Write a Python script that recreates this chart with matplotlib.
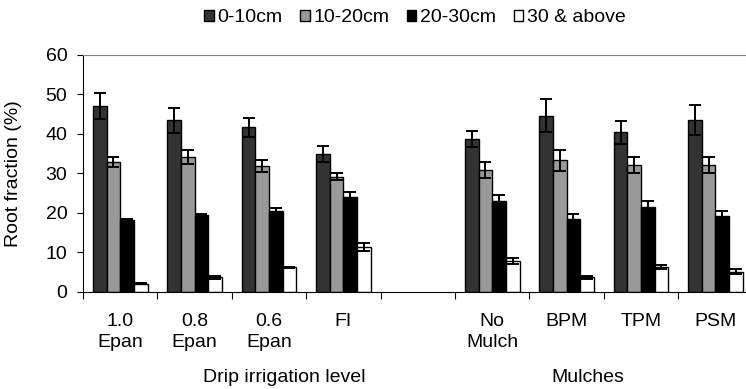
import numpy as np
import matplotlib.pyplot as plt

plt.rcParams['font.family'] = ['Liberation Sans', 'DejaVu Sans']
plt.rcParams['font.size'] = 14

categories = ['1.0\nEpan', '0.8\nEpan', '0.6\nEpan', 'FI', '',
              'No\nMulch', 'BPM', 'TPM', 'PSM']
series_names = ['0-10cm', '10-20cm', '20-30cm', '30 & above']

nan = np.nan
d_0_10 = [47.1, 43.4, 41.7, 34.9, nan, 38.7, 44.6, 40.4, 43.4]
e_0_10 = [3.3, 3.2, 2.4, 2.1, nan, 2.0, 4.1, 2.9, 3.8]
d_10_20 = [32.9, 34.1, 31.9, 29.2, nan, 30.8, 33.3, 32.1, 32.1]
e_10_20 = [1.2, 1.8, 1.5, 0.9, nan, 2.1, 2.6, 2.0, 2.0]
d_20_30 = [18.1, 19.4, 20.4, 24.1, nan, 23.0, 18.4, 21.4, 19.2]
e_20_30 = [0.3, 0.3, 0.8, 1.2, nan, 1.6, 1.2, 1.6, 1.2]
d_30 = [2.1, 3.7, 6.2, 11.4, nan, 7.9, 3.7, 6.3, 5.1]
e_30 = [0.15, 0.3, 0.2, 1.0, nan, 0.8, 0.3, 0.6, 0.6]

values = [d_0_10, d_10_20, d_20_30, d_30]
errors = [e_0_10, e_10_20, e_20_30, e_30]
colors = ['#333333', '#999999', '#000000', '#ffffff']

fig = plt.figure(figsize=(7.46, 3.89), dpi=100)
ax = fig.add_axes([83 / 746, 97 / 389, 669.6 / 746, 237.3 / 389])

x = np.arange(len(categories))
w = 0.1835
for k in range(4):
    xs = x + (k - 1.5) * w
    ax.bar(xs, values[k], w, color=colors[k], edgecolor='black', linewidth=1.0,
           label=series_names[k], zorder=2)
    ax.errorbar(xs, values[k], yerr=errors[k], fmt='none', ecolor='black',
                elinewidth=1.4, capsize=4.2, capthick=1.4, zorder=3)

ax.set_xlim(-0.5, len(categories) - 0.5)
ax.set_ylim(0, 60)
ax.set_yticks(range(0, 61, 10))
ax.set_xticks(np.arange(-0.5, len(categories) - 0.5, 1.0))
ax.set_xticklabels([])
ax.set_xticks(x, minor=True)
ax.set_xticklabels(categories, minor=True, linespacing=1.3)
ax.tick_params(axis='x', which='major', length=4.75, direction='out', color='black')
ax.tick_params(axis='x', which='minor', length=0, pad=15)
ax.tick_params(axis='y', length=4.3, direction='out', pad=7)

ax.spines['right'].set_visible(False)
ax.spines['top'].set_color('#808080')
ax.spines['left'].set_color('black')
ax.spines['bottom'].set_color('black')

ax.set_ylabel('Root fraction (%)')
ax.yaxis.set_label_coords(-0.0918, 0.5)

# group labels under the categories
ax.text(2.20, -0.36, 'Drip irrigation level', transform=ax.get_xaxis_transform(),
        ha='center', va='center')
ax.text(6.29, -0.36, 'Mulches', transform=ax.get_xaxis_transform(),
        ha='center', va='center')

fig.legend(loc='center', bbox_to_anchor=(415 / 746, 1 - 18 / 389), ncol=4,
           frameon=False, handlelength=0.48, handleheight=0.48,
           handletextpad=0.2, columnspacing=0.9, borderpad=0)

fig.savefig('out.png', dpi=100)
